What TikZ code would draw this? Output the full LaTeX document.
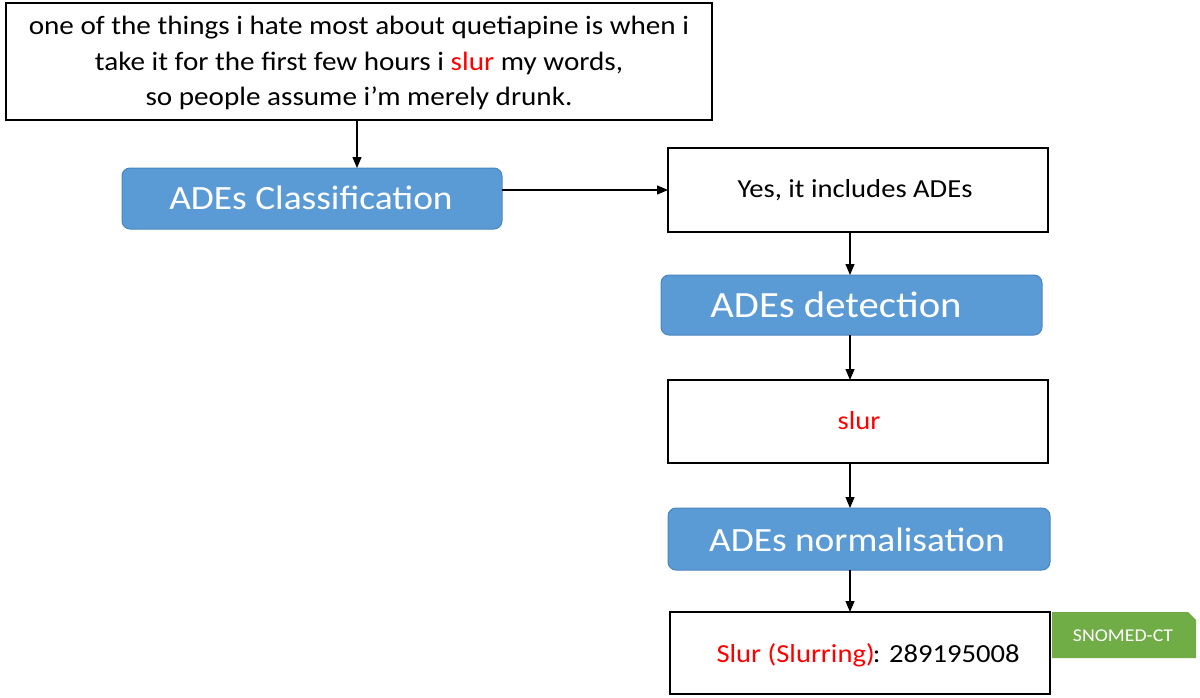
\documentclass[tikz,border=0pt]{standalone}
\usepackage{fontspec}
\setmainfont{Carlito}[FakeStretch=1.1]
\usetikzlibrary{arrows.meta}
\definecolor{boxblue}{HTML}{5B9BD5}
\definecolor{blueedge}{HTML}{4A86BE}
\definecolor{snogreen}{HTML}{70AD47}
\definecolor{adered}{HTML}{FF0000}
\tikzset{
  plainbox/.style={draw=black, line width=1.3pt, fill=white},
  bluebox/.style={draw=blueedge, line width=1pt, fill=boxblue, rounded corners=8pt},
  conn/.style={line width=1.3pt, -{Triangle[length=11pt,width=9pt]}},
  lbl/.style={align=center, inner sep=0pt}
}
\begin{document}
\begin{tikzpicture}[x=1pt,y=-1pt]
\useasboundingbox (0,0) rectangle (1200,697);
% boxes
\draw[plainbox] (6,3) rectangle (712,120);
\node[lbl, font=\fontsize{26.5}{35.5}\selectfont] (topt) at (359,63) {one of the things i hate most about quetiapine is when i\\take it for the first few hours i \textcolor{adered}{slur} my words,\\so people assume i’m merely drunk.};
\coordinate (topS) at (357,120);

\draw[bluebox] (122,168) rectangle (502,229);
\node[lbl, text=white, font=\fontsize{34}{38}\selectfont] (cls) at (311,198) {ADEs Classification};
\coordinate (clsN) at (357,168);
\coordinate (clsE) at (502,190);

\draw[plainbox] (668,148) rectangle (1048,232);
\node[lbl, font=\fontsize{26}{30}\selectfont] (yes) at (855,190) {Yes, it includes ADEs};
\coordinate (yesW) at (668,190);
\coordinate (yesS) at (850,232);

\draw[bluebox] (661,275) rectangle (1042,335);
\node[lbl, text=white, font=\fontsize{37}{40}\selectfont] (det) at (836,305) {ADEs detection};
\coordinate (detN) at (850,275);
\coordinate (detS) at (850,335);

\draw[plainbox] (668,380) rectangle (1048,463);
\node[lbl, text=adered, font=\fontsize{26}{30}\selectfont] (slur) at (859,421) {slur};
\coordinate (slurN) at (850,380);
\coordinate (slurS) at (850,463);

\draw[bluebox] (668,508) rectangle (1050,570);
\node[lbl, text=white, font=\fontsize{34}{38}\selectfont] (norm) at (857,540) {ADEs normalisation};
\coordinate (normN) at (850,508);
\coordinate (normS) at (850,570);

\draw[plainbox] (670,612) rectangle (1050,694);
\node[lbl, font=\fontsize{26}{30}\selectfont] (res) at (868,655) {\textcolor{adered}{Slur (Slurring)}\kern-2pt: 289195008};
\coordinate (resN) at (850,612);

\fill[snogreen] (1052,612) -- (1188,612) -- (1196,620) -- (1196,658) -- (1052,658) -- cycle;
\node[lbl, text=white, font=\fontsize{18}{20}\selectfont] (sno) at (1123,636) {SNOMED-CT};

% connectors
\draw[conn] (topS) -- (clsN);
\draw[conn] (clsE) -- (yesW);
\draw[conn] (yesS) -- (detN);
\draw[conn] (detS) -- (slurN);
\draw[conn] (slurS) -- (normN);
\draw[conn] (normS) -- (resN);
\end{tikzpicture}
\end{document}
